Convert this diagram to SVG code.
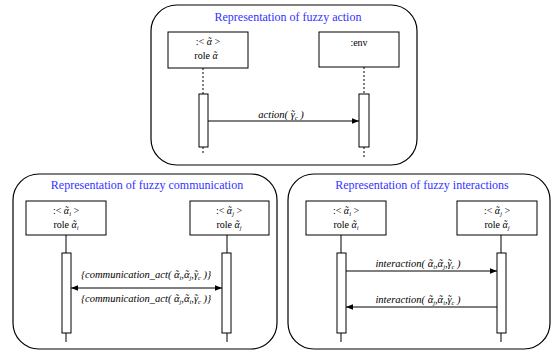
<svg xmlns="http://www.w3.org/2000/svg" width="552" height="352" viewBox="0 0 552 352">
<defs>
<style>
.panel{fill:none;stroke:#000;stroke-width:1.2}
.title{font-family:"Liberation Serif","Times New Roman",serif;font-size:12px;fill:#3333ff;text-anchor:middle}
.box{fill:#fff;stroke:#000;stroke-width:1}
.t{font-family:"Liberation Serif","Times New Roman",serif;font-size:10px;fill:#000;text-anchor:middle}
.lbl{font-family:"Liberation Serif","Times New Roman",serif;font-size:10.5px;font-style:italic;fill:#000;text-anchor:middle}
.act{fill:#fff;stroke:#000;stroke-width:1}
.life{stroke:#000;stroke-width:1}
.dash{stroke:#000;stroke-width:1;stroke-dasharray:2,2}
.msg{stroke:#000;stroke-width:1;fill:none}
.sub{font-size:6.5px}
.it{font-style:italic}
</style>
<marker id="ah" viewBox="0 0 10 10" refX="10" refY="5" markerWidth="7" markerHeight="7" orient="auto-start-reverse" markerUnits="userSpaceOnUse">
<path d="M0,1 L10,5 L0,9 z" fill="#000"/>
</marker>
</defs>
<rect width="552" height="352" fill="#fff"/>

<g id="panel-action">
<rect class="panel" x="151" y="5" width="266" height="160" rx="26"/>
<text class="title" x="288" y="21">Representation of fuzzy action</text>
</g>
<g id="panel-communication">
<rect class="panel" x="13" y="174" width="264" height="175" rx="26"/>
<text class="title" x="147" y="189">Representation of fuzzy communication</text>
</g>
<g id="panel-interactions">
<rect class="panel" x="288" y="174" width="262" height="175" rx="26"/>
<text class="title" x="422" y="189">Representation of fuzzy interactions</text>
</g>

<g id="connectors">
<line class="dash" x1="203" y1="68" x2="203" y2="94"/>
<line class="dash" x1="203" y1="147" x2="203" y2="155"/>
<line class="dash" x1="364" y1="67" x2="364" y2="94"/>
<line class="dash" x1="364" y1="147" x2="364" y2="157"/>
<line class="life" x1="66" y1="235" x2="66" y2="253"/>
<line class="life" x1="66" y1="333" x2="66" y2="342"/>
<line class="life" x1="227" y1="235" x2="227" y2="253"/>
<line class="life" x1="227" y1="333" x2="227" y2="342"/>
<line class="life" x1="341" y1="235" x2="341" y2="253"/>
<line class="life" x1="341" y1="333" x2="341" y2="342"/>
<line class="life" x1="501" y1="235" x2="501" y2="253"/>
<line class="life" x1="501" y1="333" x2="501" y2="342"/>
<line class="msg" x1="208" y1="121" x2="359" y2="121" marker-end="url(#ah)"/>
<line class="msg" x1="71" y1="288" x2="222" y2="288" marker-start="url(#ah)" marker-end="url(#ah)"/>
<line class="msg" x1="346" y1="271" x2="497" y2="271" marker-end="url(#ah)"/>
<line class="msg" x1="497" y1="307" x2="346" y2="307" marker-end="url(#ah)"/>
<text class="lbl" x="281" y="118">action(  γ<tspan dx="-4.2">˜</tspan><tspan class="sub" dx="0.5" dy="2">c</tspan><tspan dy="-2"> )</tspan></text>
<text class="lbl" x="146" y="278">{communication_act(  α<tspan dx="-4.5">˜</tspan><tspan class="sub" dx="1" dy="2">i</tspan><tspan dy="-2">,α</tspan><tspan dx="-4.5">˜</tspan><tspan class="sub" dx="1" dy="2">j</tspan><tspan dy="-2">,γ</tspan><tspan dx="-4.2">˜</tspan><tspan class="sub" dx="0.5" dy="2">c</tspan><tspan dy="-2">  )}</tspan></text>
<text class="lbl" x="146" y="302">{communication_act(  α<tspan dx="-4.5">˜</tspan><tspan class="sub" dx="1" dy="2">j</tspan><tspan dy="-2">,α</tspan><tspan dx="-4.5">˜</tspan><tspan class="sub" dx="1" dy="2">i</tspan><tspan dy="-2">,γ</tspan><tspan dx="-4.2">˜</tspan><tspan class="sub" dx="0.5" dy="2">c</tspan><tspan dy="-2">  )}</tspan></text>
<text class="lbl" x="418" y="267">interaction(  α<tspan dx="-4.5">˜</tspan><tspan class="sub" dx="1" dy="2">i</tspan><tspan dy="-2">,α</tspan><tspan dx="-4.5">˜</tspan><tspan class="sub" dx="1" dy="2">j</tspan><tspan dy="-2">,γ</tspan><tspan dx="-4.2">˜</tspan><tspan class="sub" dx="0.5" dy="2">c</tspan><tspan dy="-2">  )</tspan></text>
<text class="lbl" x="418" y="303">interaction(  α<tspan dx="-4.5">˜</tspan><tspan class="sub" dx="1" dy="2">j</tspan><tspan dy="-2">,α</tspan><tspan dx="-4.5">˜</tspan><tspan class="sub" dx="1" dy="2">i</tspan><tspan dy="-2">,γ</tspan><tspan dx="-4.2">˜</tspan><tspan class="sub" dx="0.5" dy="2">c</tspan><tspan dy="-2">  )</tspan></text>
</g>

<g id="role-alpha">
<rect class="box" x="168" y="32" width="80" height="36"/>
<text class="t" x="208" y="45">:&lt; <tspan class="it">α</tspan><tspan class="it" dx="-4.3">˜</tspan><tspan dx="1"> &gt;</tspan></text>
<text class="t" x="206" y="59">role <tspan class="it">α</tspan><tspan class="it" dx="-4.3">˜</tspan></text>
<rect class="act" x="199" y="94" width="9" height="53"/>
</g>
<g id="env">
<rect class="box" x="319" y="32" width="80" height="35"/>
<text class="t" x="359" y="46">:env</text>
<rect class="act" x="359" y="94" width="10" height="53"/>
</g>

<g id="comm-alpha-i">
<rect class="box" x="26" y="201" width="80" height="34"/>
<text class="t" x="66" y="214">:&lt; <tspan class="it">α</tspan><tspan class="it" dx="-4.3">˜</tspan><tspan class="sub it" dx="1" dy="2">i</tspan><tspan dy="-2"> &gt;</tspan></text>
<text class="t" x="66" y="228">role <tspan class="it">α</tspan><tspan class="it" dx="-4.3">˜</tspan><tspan class="sub it" dx="1" dy="2">i</tspan></text>
<rect class="act" x="62" y="253" width="9" height="80"/>
</g>
<g id="comm-alpha-j">
<rect class="box" x="190" y="201" width="79" height="34"/>
<text class="t" x="229" y="214">:&lt; <tspan class="it">α</tspan><tspan class="it" dx="-4.3">˜</tspan><tspan class="sub it" dx="1" dy="2">j</tspan><tspan dy="-2"> &gt;</tspan></text>
<text class="t" x="229" y="228">role <tspan class="it">α</tspan><tspan class="it" dx="-4.3">˜</tspan><tspan class="sub it" dx="1" dy="2">j</tspan></text>
<rect class="act" x="222" y="253" width="9" height="80"/>
</g>

<g id="inter-alpha-i">
<rect class="box" x="306" y="201" width="80" height="34"/>
<text class="t" x="346" y="214">:&lt; <tspan class="it">α</tspan><tspan class="it" dx="-4.3">˜</tspan><tspan class="sub it" dx="1" dy="2">i</tspan><tspan dy="-2"> &gt;</tspan></text>
<text class="t" x="346" y="228">role <tspan class="it">α</tspan><tspan class="it" dx="-4.3">˜</tspan><tspan class="sub it" dx="1" dy="2">i</tspan></text>
<rect class="act" x="337" y="253" width="9" height="80"/>
</g>
<g id="inter-alpha-j">
<rect class="box" x="457" y="201" width="80" height="34"/>
<text class="t" x="497" y="214">:&lt; <tspan class="it">α</tspan><tspan class="it" dx="-4.3">˜</tspan><tspan class="sub it" dx="1" dy="2">j</tspan><tspan dy="-2"> &gt;</tspan></text>
<text class="t" x="497" y="228">role <tspan class="it">α</tspan><tspan class="it" dx="-4.3">˜</tspan><tspan class="sub it" dx="1" dy="2">j</tspan></text>
<rect class="act" x="497" y="253" width="9" height="80"/>
</g>
</svg>
